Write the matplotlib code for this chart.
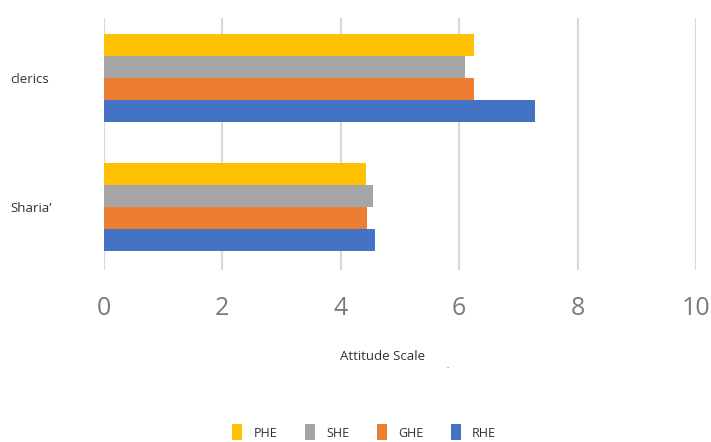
import numpy as np
from matplotlib import pyplot as plt

categories = ["Sharia\u2019", "clerics"]
series = ["RHE", "GHE", "SHE", "PHE"]
RHE = [4.58, 7.28]
GHE = [4.44, 6.25]
SHE = [4.54, 6.10]
PHE = [4.42, 6.25]
colors = {"RHE": "#4472C4", "GHE": "#ED7D31", "SHE": "#A5A5A5", "PHE": "#FFC000"}
values = {"RHE": RHE, "GHE": GHE, "SHE": SHE, "PHE": PHE}

plt.rcParams['font.family'] = ['Open Sans', 'DejaVu Sans']

fig = plt.figure(figsize=(7.11, 4.42), dpi=100)
ax = fig.add_axes([0.1463, 0.389, 0.8327, 0.570])

y = np.arange(len(categories))
w = 0.172
bars = {}
for i, name in enumerate(series):
    bars[name] = ax.barh(y + (i - 1.5) * w, values[name], height=w,
                         color=colors[name], zorder=3)

ax.set_xlim(0, 10)
ax.set_ylim(-0.49, 1.465)
ax.set_xticks([0, 2, 4, 6, 8, 10])
ax.set_xticklabels(["0", "2", "4", "6", "8", "10"], fontsize=18, color="#7a7a7a")
ax.tick_params(axis='x', length=0, pad=19)
ax.set_yticks(y)
ax.set_yticklabels(categories, fontsize=9.5, color="#303030", ha='left')
ax.tick_params(axis='y', length=0, pad=67.5)
ax.grid(axis='x', color="#d9d9d9", linewidth=1.6, zorder=0)
for s in ax.spines.values():
    s.set_visible(False)

ax.set_xlabel("Attitude Scale", fontsize=9.5, color="#303030")
ax.xaxis.set_label_coords(0.471, -0.317)
fig.text(448 / 711, 1 - 368 / 442, "-", fontsize=5, color="#606060", ha='center', va='center')

order = ["PHE", "SHE", "GHE", "RHE"]
fig.legend([bars[n] for n in order], order, loc='lower center', ncol=4,
           bbox_to_anchor=(0.512, -0.022), frameon=False, fontsize=9,
           handlelength=0.8, handleheight=1.6, handletextpad=0.9,
           columnspacing=2.2, labelcolor="#303030")

plt.savefig("out.png")
